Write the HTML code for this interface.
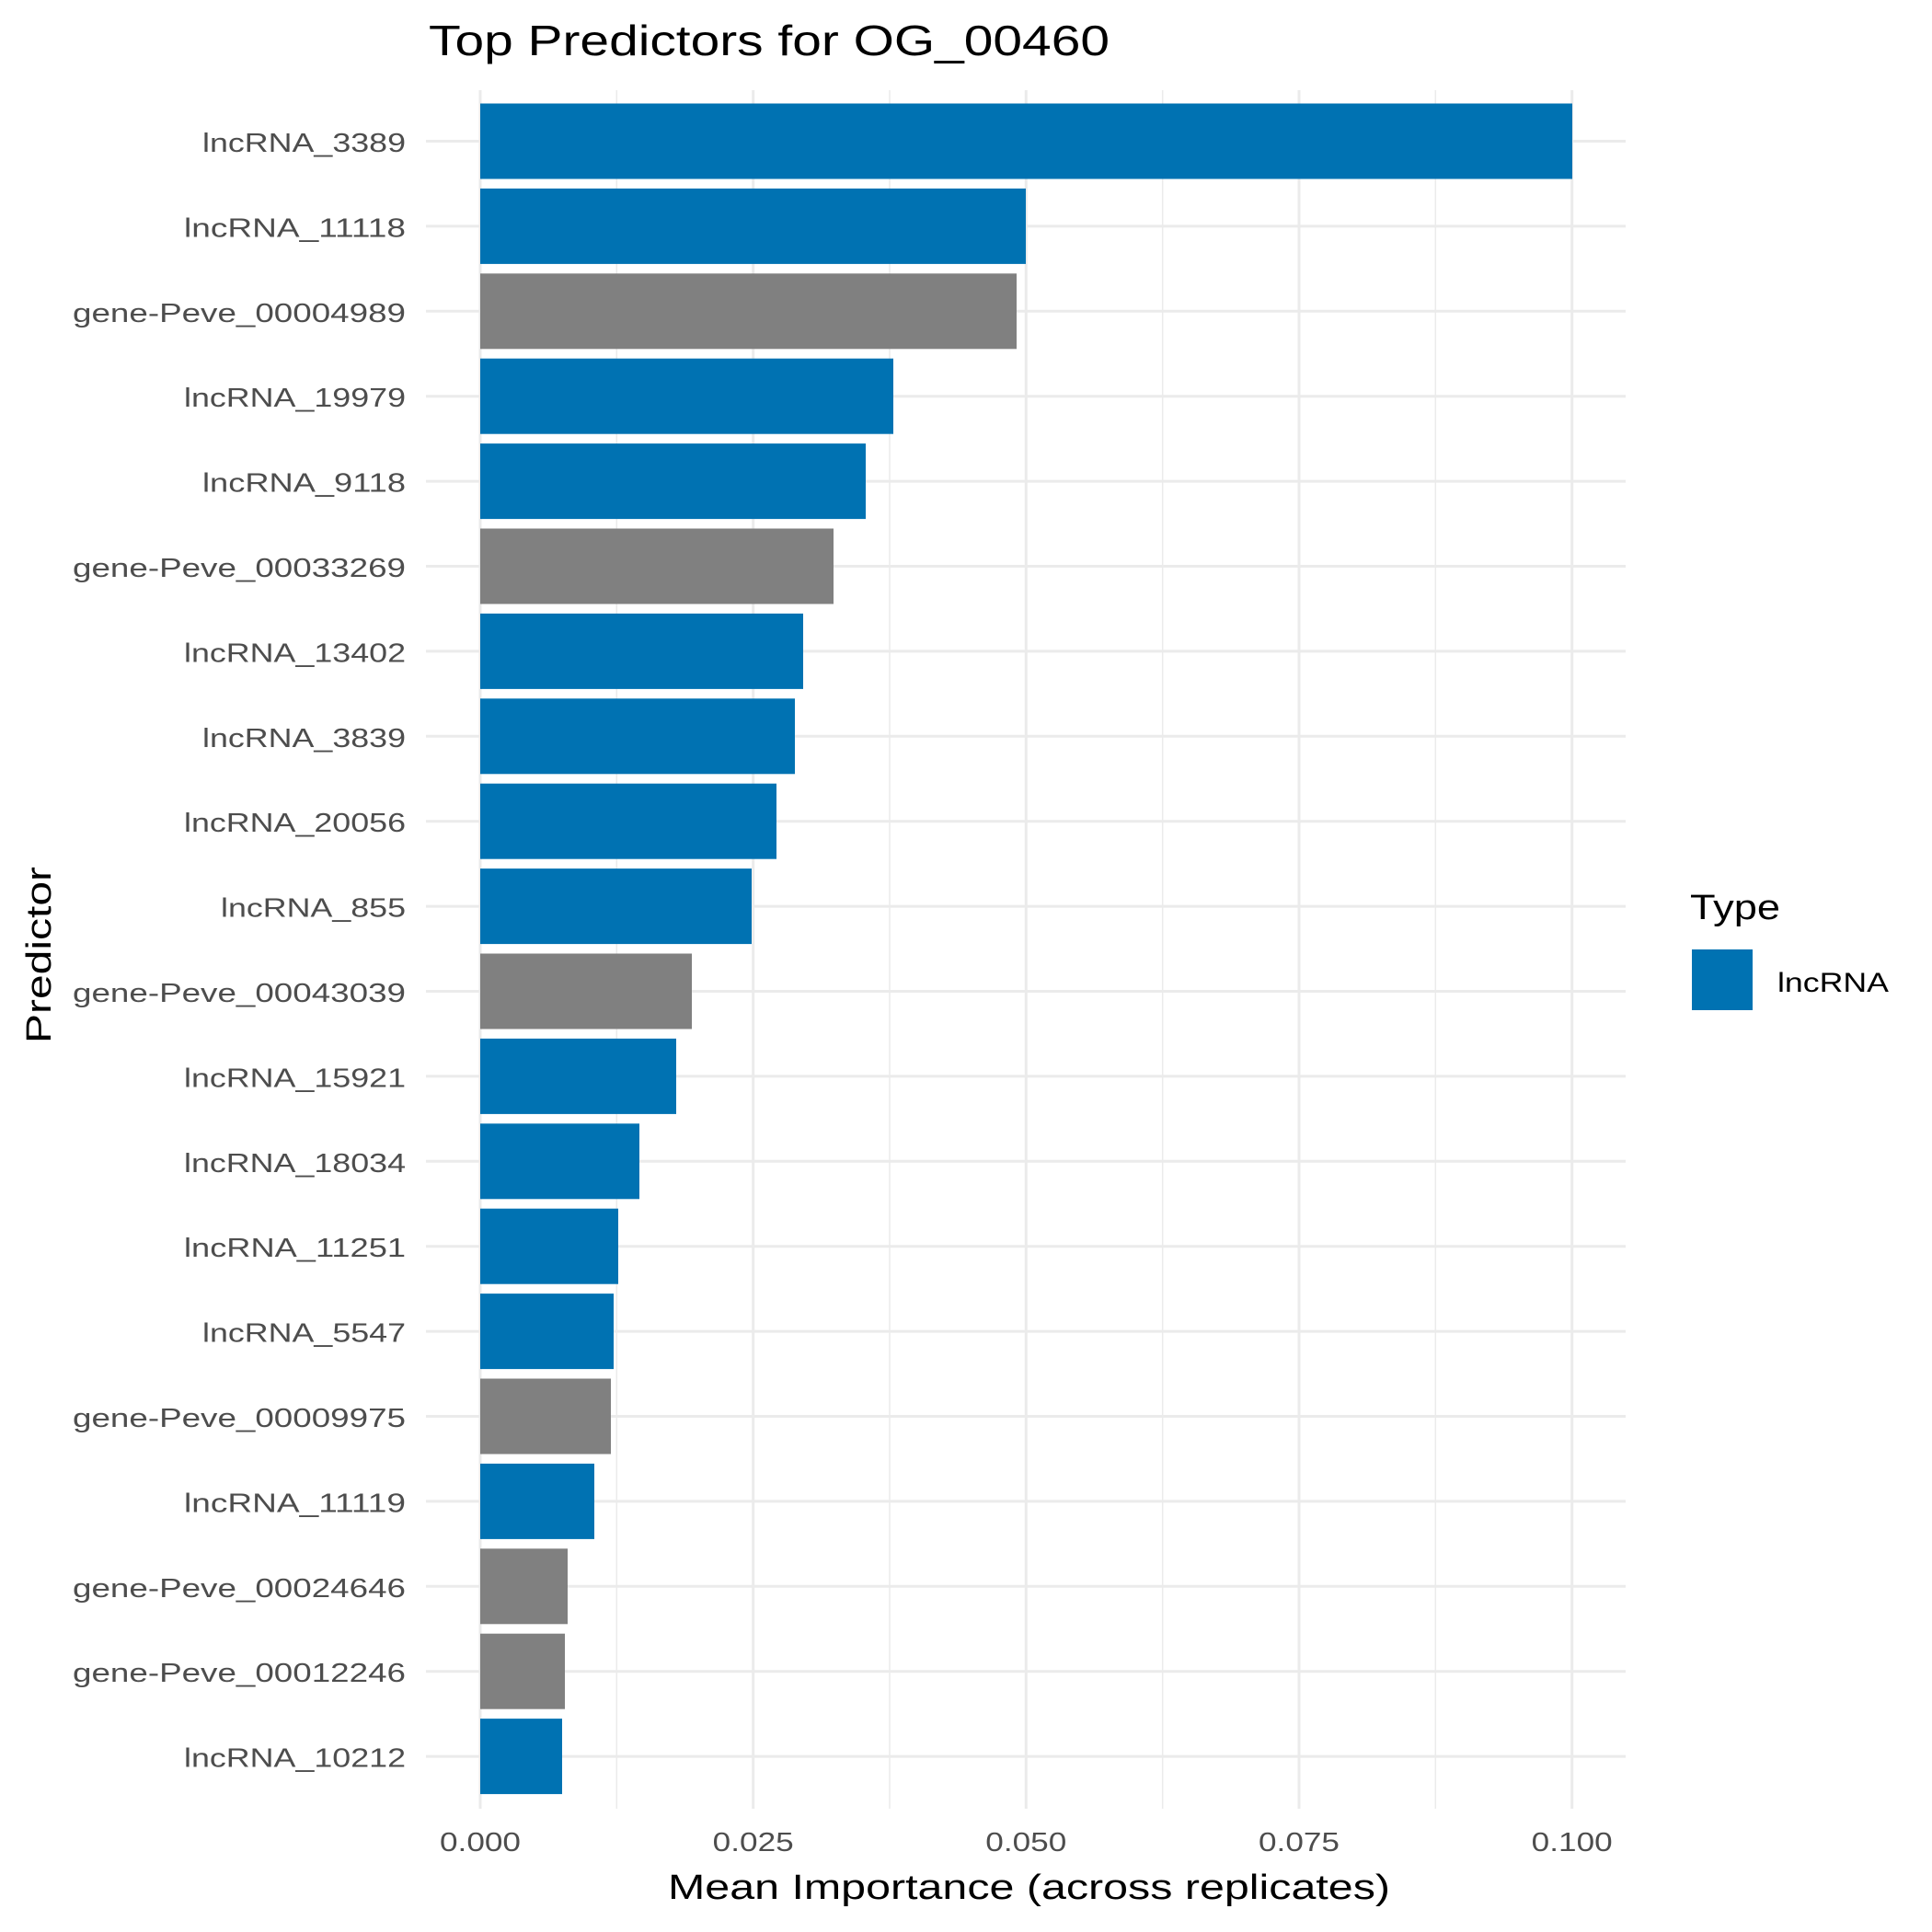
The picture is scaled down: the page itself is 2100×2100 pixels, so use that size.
<!DOCTYPE html>
<html><head><meta charset="utf-8"><style>html,body{margin:0;padding:0;background:#fff}svg{display:block}</style></head>
<body>
<svg xmlns="http://www.w3.org/2000/svg" width="2100" height="2100" viewBox="0 0 2100 2100" font-family="'Liberation Sans', 'DejaVu Sans', sans-serif">
<rect width="2100" height="2100" fill="#fff"/>
<g stroke="#ebebeb">
<g stroke-width="1.5">
<line x1="670.3" y1="98" x2="670.3" y2="1966"/><line x1="967" y1="98" x2="967" y2="1966"/><line x1="1263.7" y1="98" x2="1263.7" y2="1966"/><line x1="1560.3" y1="98" x2="1560.3" y2="1966"/>
</g>
<g stroke-width="3">
<line x1="522" y1="98" x2="522" y2="1966"/><line x1="818.7" y1="98" x2="818.7" y2="1966"/><line x1="1115.3" y1="98" x2="1115.3" y2="1966"/><line x1="1412" y1="98" x2="1412" y2="1966"/><line x1="1708.7" y1="98" x2="1708.7" y2="1966"/>
<line x1="463" x2="1767" y1="153.5" y2="153.5"/><line x1="463" x2="1767" y1="245.9" y2="245.9"/><line x1="463" x2="1767" y1="338.3" y2="338.3"/><line x1="463" x2="1767" y1="430.7" y2="430.7"/><line x1="463" x2="1767" y1="523.1" y2="523.1"/><line x1="463" x2="1767" y1="615.5" y2="615.5"/><line x1="463" x2="1767" y1="707.9" y2="707.9"/><line x1="463" x2="1767" y1="800.3" y2="800.3"/><line x1="463" x2="1767" y1="892.7" y2="892.7"/><line x1="463" x2="1767" y1="985.1" y2="985.1"/><line x1="463" x2="1767" y1="1077.5" y2="1077.5"/><line x1="463" x2="1767" y1="1169.9" y2="1169.9"/><line x1="463" x2="1767" y1="1262.3" y2="1262.3"/><line x1="463" x2="1767" y1="1354.7" y2="1354.7"/><line x1="463" x2="1767" y1="1447.1" y2="1447.1"/><line x1="463" x2="1767" y1="1539.5" y2="1539.5"/><line x1="463" x2="1767" y1="1631.9" y2="1631.9"/><line x1="463" x2="1767" y1="1724.3" y2="1724.3"/><line x1="463" x2="1767" y1="1816.7" y2="1816.7"/><line x1="463" x2="1767" y1="1909.1" y2="1909.1"/>
</g>
</g>
<g>
<rect x="522" y="112.5" width="1187" height="82" fill="#0072B2"/>
<rect x="522" y="204.9" width="593" height="82" fill="#0072B2"/>
<rect x="522" y="297.3" width="583" height="82" fill="#808080"/>
<rect x="522" y="389.7" width="449" height="82" fill="#0072B2"/>
<rect x="522" y="482.1" width="419" height="82" fill="#0072B2"/>
<rect x="522" y="574.5" width="384" height="82" fill="#808080"/>
<rect x="522" y="666.9" width="351" height="82" fill="#0072B2"/>
<rect x="522" y="759.3" width="342" height="82" fill="#0072B2"/>
<rect x="522" y="851.7" width="322" height="82" fill="#0072B2"/>
<rect x="522" y="944.1" width="295" height="82" fill="#0072B2"/>
<rect x="522" y="1036.5" width="230" height="82" fill="#808080"/>
<rect x="522" y="1128.9" width="213" height="82" fill="#0072B2"/>
<rect x="522" y="1221.3" width="173" height="82" fill="#0072B2"/>
<rect x="522" y="1313.7" width="150" height="82" fill="#0072B2"/>
<rect x="522" y="1406.1" width="145" height="82" fill="#0072B2"/>
<rect x="522" y="1498.5" width="142" height="82" fill="#808080"/>
<rect x="522" y="1590.9" width="124" height="82" fill="#0072B2"/>
<rect x="522" y="1683.3" width="95" height="82" fill="#808080"/>
<rect x="522" y="1775.7" width="92" height="82" fill="#808080"/>
<rect x="522" y="1868.1" width="89" height="82" fill="#0072B2"/>
</g>
<g fill="#4d4d4d" font-size="29" text-anchor="end">
<text x="441" y="165" textLength="221" lengthAdjust="spacingAndGlyphs">lncRNA_3389</text>
<text x="441" y="257.4" textLength="241" lengthAdjust="spacingAndGlyphs">lncRNA_11118</text>
<text x="441" y="349.8" textLength="362" lengthAdjust="spacingAndGlyphs">gene-Peve_00004989</text>
<text x="441" y="442.2" textLength="241" lengthAdjust="spacingAndGlyphs">lncRNA_19979</text>
<text x="441" y="534.6" textLength="221" lengthAdjust="spacingAndGlyphs">lncRNA_9118</text>
<text x="441" y="627" textLength="362" lengthAdjust="spacingAndGlyphs">gene-Peve_00033269</text>
<text x="441" y="719.4" textLength="241" lengthAdjust="spacingAndGlyphs">lncRNA_13402</text>
<text x="441" y="811.8" textLength="221" lengthAdjust="spacingAndGlyphs">lncRNA_3839</text>
<text x="441" y="904.2" textLength="241" lengthAdjust="spacingAndGlyphs">lncRNA_20056</text>
<text x="441" y="996.6" textLength="201" lengthAdjust="spacingAndGlyphs">lncRNA_855</text>
<text x="441" y="1089" textLength="362" lengthAdjust="spacingAndGlyphs">gene-Peve_00043039</text>
<text x="441" y="1181.4" textLength="241" lengthAdjust="spacingAndGlyphs">lncRNA_15921</text>
<text x="441" y="1273.8" textLength="241" lengthAdjust="spacingAndGlyphs">lncRNA_18034</text>
<text x="441" y="1366.2" textLength="241" lengthAdjust="spacingAndGlyphs">lncRNA_11251</text>
<text x="441" y="1458.6" textLength="221" lengthAdjust="spacingAndGlyphs">lncRNA_5547</text>
<text x="441" y="1551" textLength="362" lengthAdjust="spacingAndGlyphs">gene-Peve_00009975</text>
<text x="441" y="1643.4" textLength="241" lengthAdjust="spacingAndGlyphs">lncRNA_11119</text>
<text x="441" y="1735.8" textLength="362" lengthAdjust="spacingAndGlyphs">gene-Peve_00024646</text>
<text x="441" y="1828.2" textLength="362" lengthAdjust="spacingAndGlyphs">gene-Peve_00012246</text>
<text x="441" y="1920.6" textLength="241" lengthAdjust="spacingAndGlyphs">lncRNA_10212</text>
</g>
<g fill="#4d4d4d" font-size="29" text-anchor="middle">
<text x="522" y="2012" textLength="88" lengthAdjust="spacingAndGlyphs">0.000</text>
<text x="818.7" y="2012" textLength="88" lengthAdjust="spacingAndGlyphs">0.025</text>
<text x="1115.3" y="2012" textLength="88" lengthAdjust="spacingAndGlyphs">0.050</text>
<text x="1412" y="2012" textLength="88" lengthAdjust="spacingAndGlyphs">0.075</text>
<text x="1708.7" y="2012" textLength="88" lengthAdjust="spacingAndGlyphs">0.100</text>
</g>
<text x="466" y="60" font-size="46" fill="#000" textLength="740" lengthAdjust="spacingAndGlyphs">Top Predictors for OG_00460</text>
<text x="726" y="2064" font-size="38" fill="#000" textLength="785" lengthAdjust="spacingAndGlyphs">Mean Importance (across replicates)</text>
<text transform="translate(55,1038) rotate(-90)" text-anchor="middle" font-size="38" fill="#000" textLength="192" lengthAdjust="spacingAndGlyphs">Predictor</text>
<text x="1837" y="999" font-size="38" fill="#000" textLength="98" lengthAdjust="spacingAndGlyphs">Type</text>
<rect x="1839" y="1032" width="66" height="66" fill="#0072B2"/>
<text x="1932" y="1078" font-size="30" fill="#000" textLength="121" lengthAdjust="spacingAndGlyphs">lncRNA</text>
</svg>
</body></html>
